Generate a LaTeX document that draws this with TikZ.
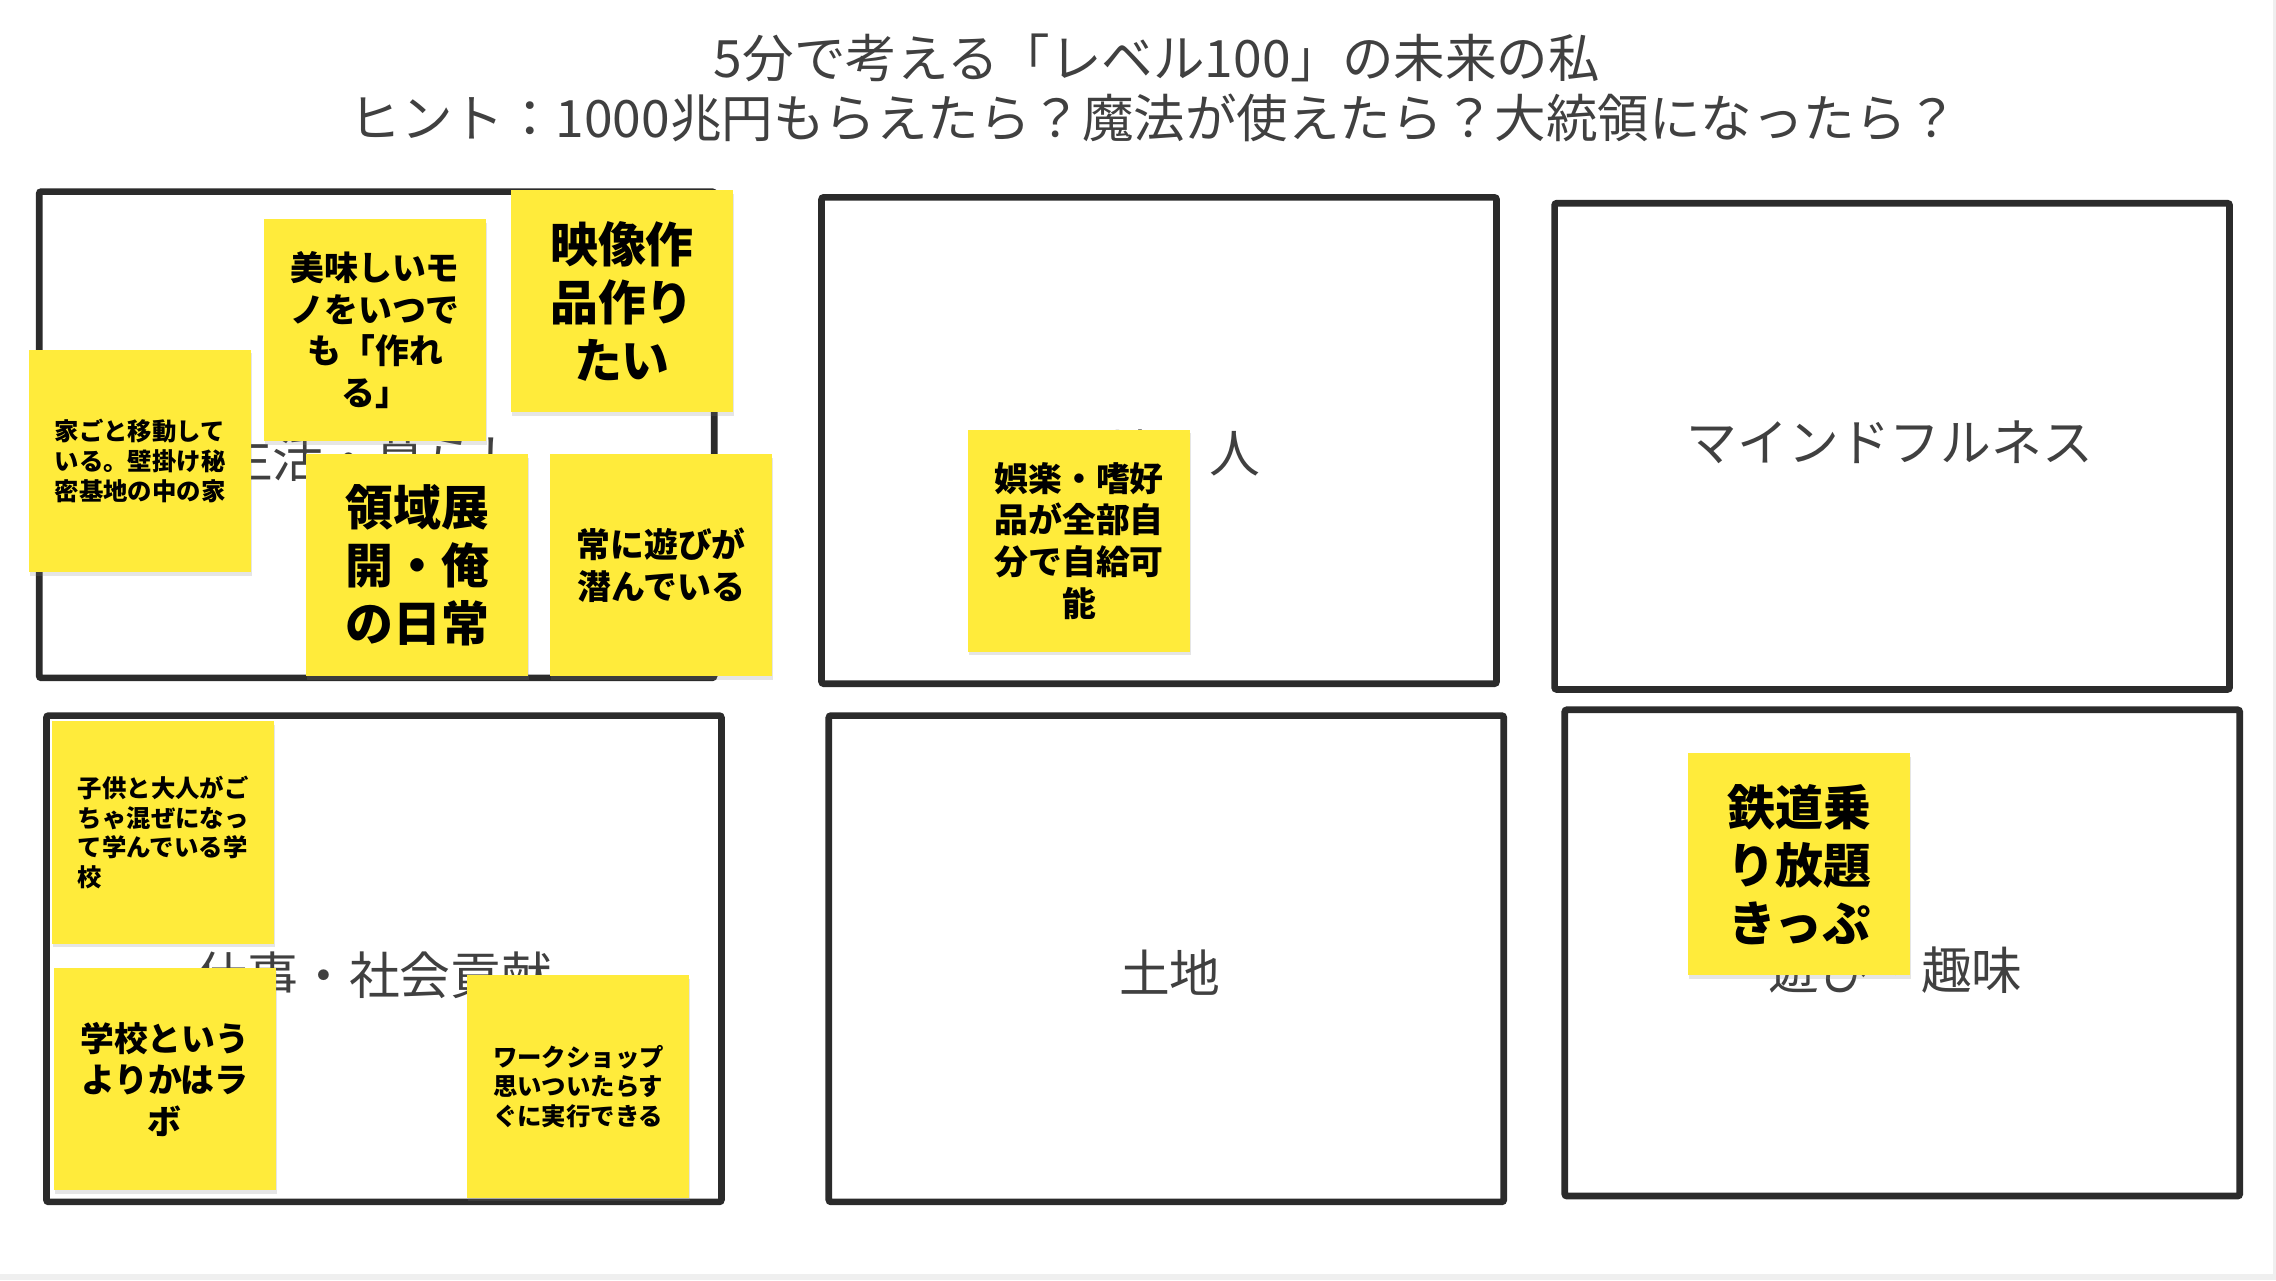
\documentclass[tikz,border=0pt]{standalone}
\usepackage{fontspec}
\setmainfont{Noto Sans CJK JP}
\usetikzlibrary{shadows}
\definecolor{sticky}{HTML}{FFEB3B}
\definecolor{frame}{HTML}{2B2B2B}
\definecolor{labelgray}{HTML}{404040}
\definecolor{edgegray}{HTML}{EFEFEF}
\begin{document}
\begin{tikzpicture}[x=1pt,y=-1pt,
  area/.style={draw=frame, line width=4.6pt, rounded corners=1.5pt, minimum width=465pt, minimum height=335pt, inner sep=0pt, outer sep=0pt, anchor=north west},
  arealabel/.style={text=labelgray, font=\fontsize{35}{40}\selectfont, inner sep=0pt},
  titletext/.style={text=labelgray, font=\fontsize{35.5}{41}\selectfont, inner sep=0pt},
  note/.style={fill=sticky, minimum width=153pt, minimum height=153pt, inner sep=0pt, outer sep=0pt, align=center, text=black, anchor=north west,
    drop shadow={shadow xshift=0.6pt, shadow yshift=-2.5pt, opacity=0.2}},
  fsmall/.style={font=\bfseries\fontsize{16.8}{20.5}\selectfont},
  fmid/.style={font=\bfseries\fontsize{23.3}{28.7}\selectfont},
  fbig/.style={font=\bfseries\fontsize{33}{40}\selectfont},
]
\useasboundingbox (0,0) rectangle (1568,882);
\fill[white] (0,0) rectangle (1568,882);
\fill[edgegray] (0,878) rectangle (1568,882);
\fill[edgegray] (1566,0) rectangle (1568,882);

% title
\node[titletext] (t1) at (797,40) {5分で考える「レベル100」の未来の私};
\node[titletext] (t2) at (795,81) {ヒント：1000兆円もらえたら？魔法が使えたら？大統領になったら？};

% areas
\node[area] (b1) at (27,132) {};
\node[area] (b2) at (566,136) {};
\node[area] (b3) at (1071,140) {};
\node[area] (b4) at (32,493) {};
\node[area] (b5) at (571,493) {};
\node[area] (b6) at (1078,489) {};

% area labels
\node[arealabel] (l1) at (258,316) {生活・暮らし};
\node[arealabel] (l2) at (798,312) {環境・人};
\node[arealabel] (l3) at (1302,305) {マインドフルネス};
\node[arealabel] (l4) at (258,672) {仕事・社会貢献};
\node[arealabel] (l5) at (806,670) {土地};
\node[arealabel] (l6) at (1306,668) {遊び・趣味};

% sticky notes
\node[note, fsmall, align=left] (s1) at (20,241) {家ごと移動して\\いる。壁掛け秘\\密基地の中の家};
\node[note, fmid] (s2) at (182,151) {美味しいモ\\ノをいつで\\も「作れ\\る」};
\node[note, fbig] (s3) at (352,131) {映像作\\品作り\\たい};
\node[note, fbig] (s4) at (211,313) {領域展\\開・俺\\の日常};
\node[note, fmid] (s5) at (379,313) {常に遊びが\\潜んでいる};
\node[note, fmid] (s6) at (667,296) {娯楽・嗜好\\品が全部自\\分で自給可\\能};
\node[note, fsmall, align=left] (s7) at (36,497) {子供と大人がご\\ちゃ混ぜになっ\\て学んでいる学\\校};
\node[note, fmid] (s8) at (37,667) {学校という\\よりかはラ\\ボ};
\node[note, fsmall, align=left] (s9) at (322,672) {ワークショップ\\思いついたらす\\ぐに実行できる};
\node[note, fbig] (s10) at (1163,519) {鉄道乗\\り放題\\きっぷ};
\end{tikzpicture}
\end{document}
